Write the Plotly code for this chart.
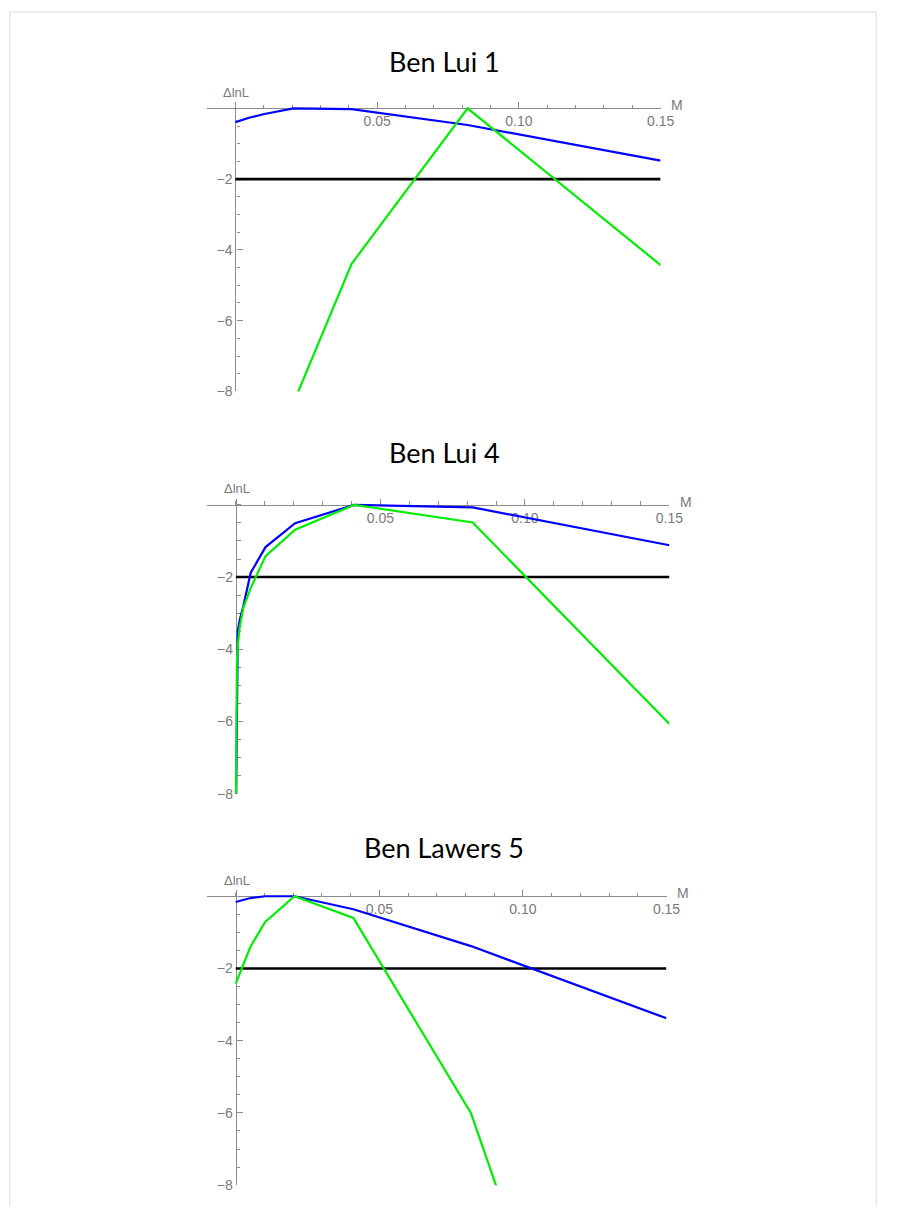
import plotly.graph_objects as go

# ---- data -------------------------------------------------------------
panel_titles = ["Ben Lui 1", "Ben Lui 4", "Ben Lawers 5"]

# Ben Lui 1
m_blue_1 = [0.0, 0.00512, 0.01024, 0.02048, 0.04096, 0.08192, 0.15]
blue_1 = [-0.39, -0.26, -0.16, 0.0, -0.02, -0.47, -1.48]
m_green_1 = [0.02048, 0.04096, 0.08192, 0.15]
green_1 = [-8.33, -4.4, 0.0, -4.43]

# Ben Lui 4
m_blue_2 = [0.0, 0.00032, 0.00064, 0.00128, 0.00256, 0.00512, 0.01024, 0.02048, 0.04096, 0.08192, 0.15]
blue_2 = [-8.6, -4.5, -3.5, -3.2, -2.8, -1.88, -1.17, -0.51, 0.0, -0.07, -1.12]
m_green_2 = [0.0, 0.00032, 0.00064, 0.00128, 0.00256, 0.00512, 0.01024, 0.02048, 0.04096, 0.08192, 0.15]
green_2 = [-8.6, -4.4, -3.9, -3.4, -2.85, -2.3, -1.42, -0.69, 0.0, -0.49, -6.07]

# Ben Lawers 5
m_blue_3 = [0.0, 0.00512, 0.01024, 0.02048, 0.04096, 0.08192, 0.15]
blue_3 = [-0.16, -0.05, 0.0, 0.0, -0.36, -1.38, -3.38]
m_green_3 = [0.0, 0.00512, 0.01024, 0.02048, 0.04096, 0.08192, 0.15]
green_3 = [-2.42, -1.4, -0.71, 0.0, -0.6, -6.01, -21.6]

# cut-off level drawn in every panel
m_cut = [0.0, 0.15]
cut_level = [-2.0, -2.0]

x_tick_vals = [0.05, 0.10, 0.15]
x_tick_text = ["0.05", "0.10", "0.15"]
y_tick_vals = [-8, -6, -4, -2]
y_tick_text = ["\u22128", "\u22126", "\u22124", "\u22122"]

series = [
    (m_blue_1, blue_1, m_green_1, green_1),
    (m_blue_2, blue_2, m_green_2, green_2),
    (m_blue_3, blue_3, m_green_3, green_3),
]

# ---- layout geometry (pixels) -----------------------------------------
W, H = 903, 1214
X_RANGE = [-0.0101, 0.15]
Y_RANGE = [-8.0, 0.17]
# left, right, top (y=0.17), bottom (y=-8) of each plotting box
boxes = [
    (210, 671, 103, 394),
    (210, 680, 502, 799),
    (210, 677, 896, 1193),
]
title_y = [62, 455, 853]

AXIS_GREY = "#8c8c8c"
LABEL_GREY = "#7a7a7a"
TICK_FONT = dict(family="Liberation Sans, Arial, sans-serif", size=14, color=LABEL_GREY)


def px_x(p):
    return p / W


def px_y(p):
    return 1 - p / H


fig = go.Figure()
layout = dict(
    width=W,
    height=H,
    margin=dict(l=0, r=0, t=0, b=0),
    paper_bgcolor="white",
    plot_bgcolor="white",
    showlegend=False,
    annotations=[],
    shapes=[],
)

for i, (box, (mb, vb, mg, vg)) in enumerate(zip(boxes, series)):
    k = "" if i == 0 else str(i + 1)
    left, right, top, bottom = box
    xdom = [px_x(left), px_x(right)]
    ydom = [px_y(bottom), px_y(top)]
    # where the axes cross (M = 0, ΔlnL = 0) in paper fractions
    x0_pos = xdom[0] + (xdom[1] - xdom[0]) * (0 - X_RANGE[0]) / (X_RANGE[1] - X_RANGE[0])
    y0_pos = ydom[0] + (ydom[1] - ydom[0]) * (0 - Y_RANGE[0]) / (Y_RANGE[1] - Y_RANGE[0])

    xa, ya = "x" + k, "y" + k
    fig.add_trace(go.Scatter(x=m_cut, y=cut_level, mode="lines",
                             line=dict(color="black", width=2.6),
                             xaxis=xa, yaxis=ya, hoverinfo="skip"))
    fig.add_trace(go.Scatter(x=mb, y=vb, mode="lines",
                             line=dict(color="#0000ff", width=2.2),
                             xaxis=xa, yaxis=ya, hoverinfo="skip"))
    fig.add_trace(go.Scatter(x=mg, y=vg, mode="lines",
                             line=dict(color="#00ee00", width=2.2),
                             xaxis=xa, yaxis=ya, hoverinfo="skip"))

    layout["xaxis" + k] = dict(
        domain=xdom, range=X_RANGE, anchor="free", position=y0_pos, side="bottom",
        showline=True, linecolor=AXIS_GREY, linewidth=1.3, layer="below traces",
        showgrid=False, zeroline=False,
        tickmode="array", tickvals=x_tick_vals, ticktext=x_tick_text,
        ticks="inside", ticklen=6, tickwidth=1.2, tickcolor=AXIS_GREY,
        tickfont=TICK_FONT,
        minor=dict(tickmode="linear", tick0=0, dtick=0.01, ticks="inside",
                   ticklen=3.5, tickwidth=1, tickcolor=AXIS_GREY),
        fixedrange=True,
    )
    layout["yaxis" + k] = dict(
        domain=ydom, range=Y_RANGE, anchor="free", position=x0_pos, side="left",
        showline=True, linecolor=AXIS_GREY, linewidth=1.3, layer="below traces",
        showgrid=False, zeroline=False,
        tickmode="array", tickvals=y_tick_vals, ticktext=y_tick_text,
        ticks="inside", ticklen=6, tickwidth=1.2, tickcolor=AXIS_GREY,
        tickfont=TICK_FONT,
        minor=dict(tickmode="linear", tick0=0, dtick=0.5, ticks="inside",
                   ticklen=3.5, tickwidth=1, tickcolor=AXIS_GREY),
        fixedrange=True,
    )

    # panel title
    layout["annotations"].append(dict(
        text=panel_titles[i], xref="paper", yref="paper",
        x=px_x(451), y=px_y(title_y[i]), xanchor="center", yanchor="middle",
        showarrow=False, font=dict(family="Lato, sans-serif", size=27, color="black"),
    ))
    # axis names
    zero_px_y = top + (bottom - top) * (Y_RANGE[1] - 0) / (Y_RANGE[1] - Y_RANGE[0])
    zero_px_x = left + (right - left) * (0 - X_RANGE[0]) / (X_RANGE[1] - X_RANGE[0])
    layout["annotations"].append(dict(
        text="\u0394lnL", xref="paper", yref="paper",
        x=px_x(zero_px_x + 1), y=px_y(top - 10), xanchor="center", yanchor="middle",
        showarrow=False, font=dict(family="Liberation Sans, Arial, sans-serif", size=13, color=LABEL_GREY),
    ))
    layout["annotations"].append(dict(
        text="M", xref="paper", yref="paper",
        x=px_x(right + 9), y=px_y(zero_px_y - 3), xanchor="left", yanchor="middle",
        showarrow=False, font=dict(family="Liberation Sans, Arial, sans-serif", size=14, color=LABEL_GREY),
    ))

# page frame: left, top and right edges (open at the bottom of the page)
fl, fr, ft = px_x(10), px_x(890), px_y(12)
layout["shapes"].append(dict(
    type="path", xref="paper", yref="paper",
    path=f"M {fl},0 L {fl},{ft} L {fr},{ft} L {fr},0",
    line=dict(color="#d9d9d9", width=1), layer="below",
))

fig.update_layout(**layout)
fig.write_html("out.html")
